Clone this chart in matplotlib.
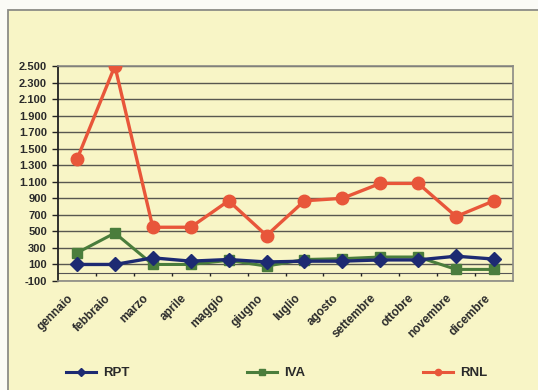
import matplotlib
matplotlib.use("Agg")
import matplotlib.pyplot as plt
import matplotlib.transforms as mtransforms
from matplotlib.lines import Line2D
from matplotlib.patches import Rectangle
from matplotlib.ticker import FuncFormatter

months = ['gennaio', 'febbraio', 'marzo', 'aprile', 'maggio', 'giugno',
          'luglio', 'agosto', 'settembre', 'ottobre', 'novembre', 'dicembre']
rpt = [100, 100, 180, 140, 160, 130, 140, 140, 155, 155, 200, 165]
iva = [240, 480, 100, 100, 150, 80, 160, 170, 190, 190, 40, 40]
rnl = [1370, 2500, 550, 550, 870, 450, 870, 900, 1080, 1080, 680, 870]
series_names = ['RPT', 'IVA', 'RNL']

W, H = 538, 390
bg = '#f8f5c6'
plt.rcParams['font.family'] = ['Liberation Sans', 'DejaVu Sans']
plt.rcParams['font.weight'] = 'bold'

fig = plt.figure(figsize=(W / 100, H / 100), dpi=100, facecolor='#fbfbf6')
# chart frame
fig.patches.append(Rectangle((8 / W, -0.05), 1.1, 1 - 10 / H + 0.05,
                             transform=fig.transFigure, facecolor=bg,
                             edgecolor='#8c8c86', linewidth=1.3, zorder=-10))

ax = fig.add_axes([58 / W, 1 - 281 / H, (513 - 58) / W, (281 - 66) / H])
ax.set_facecolor(bg)
ax.set_xlim(-0.5, len(months) - 0.5)
ax.set_ylim(-100, 2500)
ax.set_yticks(range(-100, 2501, 200))
ax.yaxis.set_major_formatter(FuncFormatter(lambda v, p: f"{int(v):,}".replace(',', '.')))
ax.grid(axis='y', color='#3c3c3c', linewidth=1.0, alpha=0.85)
ax.set_axisbelow(True)

for s in ['top', 'right', 'bottom']:
    ax.spines[s].set_color('#8a8a84')
    ax.spines[s].set_linewidth(1.2)
ax.spines['left'].set_color('#222222')
ax.spines['left'].set_linewidth(1.3)
ax.tick_params(axis='y', length=4, width=1, color='#222222', pad=4,
               labelsize=8, labelcolor='#2a2a2a')

x = list(range(len(months)))
ax.set_xticks(x)
ax.set_xticklabels(months, rotation=45, ha='right', va='top',
                   rotation_mode='anchor', fontsize=8.5, color='#2a2a2a')
ax.tick_params(axis='x', length=0, pad=8)
offset = mtransforms.ScaledTranslation(-10 / 100, 0, fig.dpi_scale_trans)
for lab in ax.get_xticklabels():
    lab.set_transform(lab.get_transform() + offset)

# category axis crossing at zero, with ticks between categories
ax.axhline(0, color='#555555', linewidth=0.8, zorder=1)
ax.vlines([i + 0.5 for i in range(len(months) - 1)], -40, 0,
          color='#222222', linewidth=1.0, zorder=1)

c_rpt, c_iva, c_rnl = '#1d2a72', '#4a7d3c', '#e8563a'
ax.plot(x, rpt, color=c_rpt, lw=2.4, marker='D', ms=7.5, zorder=4)
ax.plot(x, iva, color=c_iva, lw=2.2, marker='s', ms=7, zorder=3)
ax.plot(x, rnl, color=c_rnl, lw=2.4, marker='o', ms=9, zorder=5)

# legend entries spread across the bottom
styles = [(c_rpt, 'D', 4), (c_iva, 's', 4), (c_rnl, 'o', 4.5)]
xs = [66, 247, 423]
for name, (c, m, ms), xp in zip(series_names, styles, xs):
    h = Line2D([], [], color=c, lw=2.2, marker=m, ms=ms)
    lg = fig.legend([h], [name], loc='center left',
                    bbox_to_anchor=(xp / W, 1 - 373 / H), frameon=False,
                    handlelength=2.3, handletextpad=0.5, borderpad=0,
                    borderaxespad=0, prop={'size': 9.5, 'weight': 'bold'})
    for t in lg.get_texts():
        t.set_color('#2a2a2a')

fig.savefig('out.png', dpi=100, facecolor=fig.get_facecolor())
